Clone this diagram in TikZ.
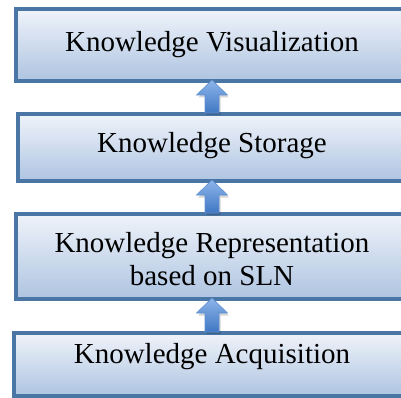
\documentclass[tikz,border=0pt]{standalone}
\usepackage{fontspec}
\setmainfont{Liberation Serif}
\usetikzlibrary{calc}
\definecolor{bordblue}{HTML}{4A76A6}
\definecolor{bordlight}{HTML}{9DB4CF}
\definecolor{filltop}{HTML}{EFF3FA}
\definecolor{fillbot}{HTML}{AEC4E1}
\definecolor{arrtop}{HTML}{8DB5EA}
\definecolor{arrbot}{HTML}{3F77C3}
\definecolor{arredge}{HTML}{5E8FD0}
\newcommand\blockarr[2]{%
  \path[fill=black, opacity=0.16] let \p1=(#1.south), \p2=(#2.north) in
    ({\x1+1.5pt},{\y1-2pt}) -- ({\x1+17pt},{\y1-16.5pt}) -- ({\x1+8.5pt},{\y1-16.5pt})
    -- ({\x1+8.5pt},{\y2-1pt}) -- ({\x1-5.5pt},{\y2-1pt}) -- ({\x1-5.5pt},{\y1-16.5pt})
    -- ({\x1-14pt},{\y1-16.5pt}) -- cycle;
  \path[blockarrow] let \p1=(#1.south), \p2=(#2.north) in
    ({\x1},{\y1+1pt}) -- ({\x1+15.5pt},{\y1-14pt}) -- ({\x1+7pt},{\y1-14pt})
    -- ({\x1+7pt},{\y2+1pt}) -- ({\x1-7pt},{\y2+1pt}) -- ({\x1-7pt},{\y1-14pt})
    -- ({\x1-15.5pt},{\y1-14pt}) -- cycle;}
\begin{document}
\begin{tikzpicture}[x=1pt,y=-1pt,
  box/.style={draw=bordblue, line width=4pt, top color=filltop, bottom color=fillbot,
    inner sep=0pt, outer sep=0pt},
  lbl/.style={anchor=base, font=\fontsize{29}{33}\selectfont, inner sep=0pt, text=black},
  blockarrow/.style={top color=arrtop, bottom color=arrbot, draw=arredge, line width=0.6pt, line join=miter}]
\useasboundingbox (0,0) rectangle (401,398);
\node[box, minimum width=392pt, minimum height=72pt] (b1) at (212,45) {};
\node[box, minimum width=388pt, minimum height=67pt] (b2) at (212,147.5) {};
\node[box, minimum width=392pt, minimum height=85pt] (b3) at (212,256.5) {};
\node[box, minimum width=396pt, minimum height=63pt] (b4) at (212,364.5) {};
\node[lbl] (t1) at (212,51.8) {Knowledge Visualization};
\node[lbl] (t2) at (212,153) {Knowledge Storage};
\node[lbl] (t3a) at (212,252) {Knowledge Representation};
\node[lbl] (t3b) at (212,285) {based on SLN};
\node[lbl] (t4) at (212,363) {Knowledge Acquisition};
\blockarr{b1}{b2}
\blockarr{b2}{b3}
\blockarr{b3}{b4}
\end{tikzpicture}
\end{document}
